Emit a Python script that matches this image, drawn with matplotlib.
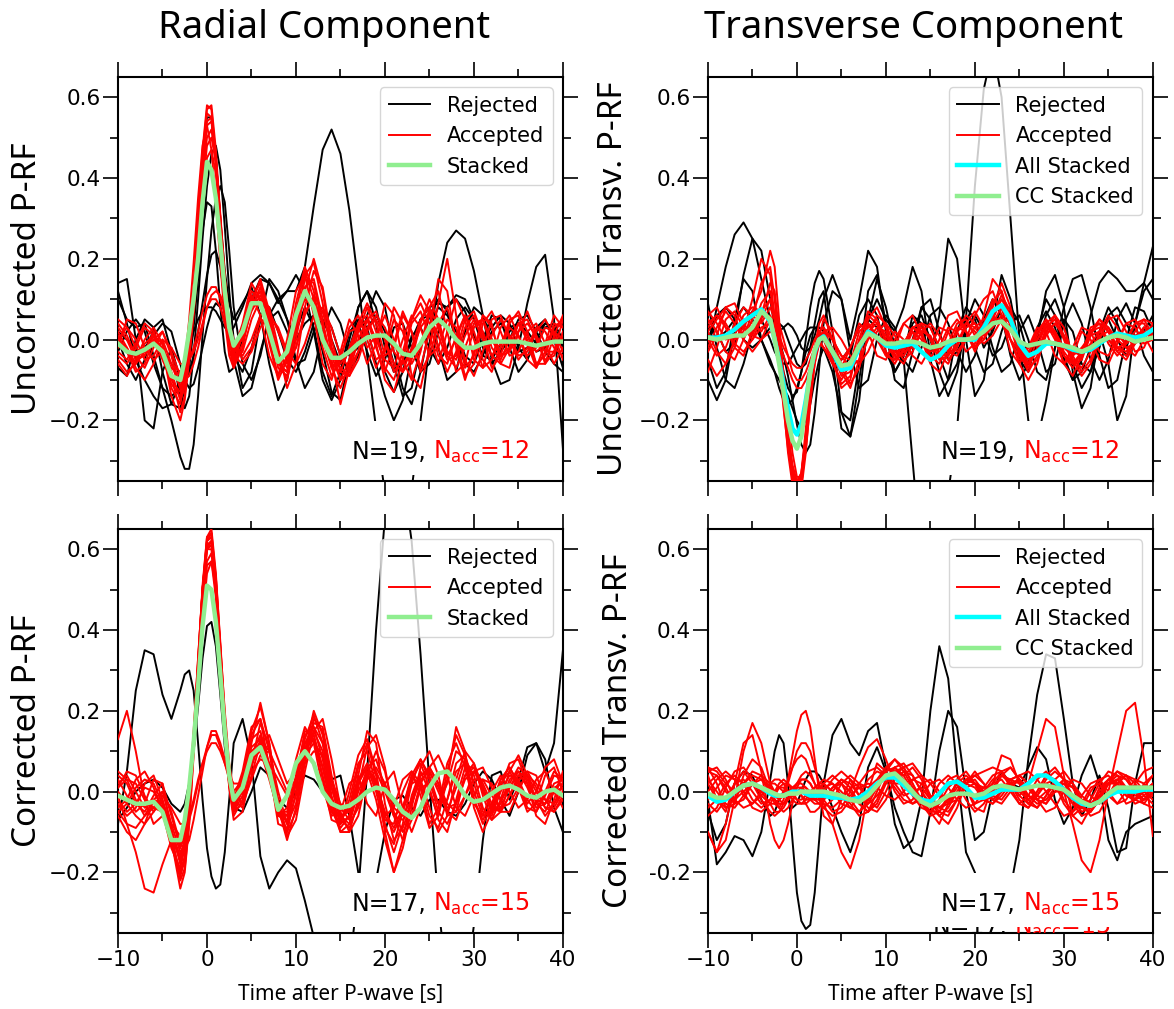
import numpy as np
import matplotlib
matplotlib.use("Agg")
import matplotlib.pyplot as plt
from matplotlib.ticker import MultipleLocator, FormatStrFormatter
from matplotlib.patches import Rectangle

# time after P [s]: 1 s samples, 0.5 s around the direct P pulse
t = np.array([-10, -9, -8, -7, -6, -5, -4, -3,
              -2.5, -2, -1.5, -1, -0.5, 0, 0.5, 1, 1.5, 2, 2.5]
             + list(range(3, 41)), dtype=float)

# ---------------- radial, uncorrected ----------------
rad_unc_rejected = [
    [0.14, 0.15, 0.0, -0.20, -0.22, -0.08, -0.02, -0.10,
     -0.12, -0.07, 0.03, 0.15, 0.27, 0.34, 0.33, 0.22, 0.08, -0.03, -0.08,
     -0.07, 0.0, 0.10, 0.15, 0.14, 0.09, 0.12, 0.12, 0.18, 0.33,
     0.47, 0.52, 0.46, 0.32, 0.14, -0.04, -0.22, -0.38, -0.46, -0.46,
     -0.37, -0.20, -0.01, 0.14, 0.24, 0.27, 0.25, 0.17, 0.06, -0.05,
     -0.11, -0.10, -0.02, 0.09, 0.18, 0.21, 0.05, -0.27],
    [-0.07, -0.09, 0.0, 0.05, 0.03, -0.08, -0.16, -0.17,
     -0.12, -0.02, 0.12, 0.29, 0.45, 0.55, 0.55, 0.45, 0.30, 0.17, 0.09,
     0.05, 0.09, 0.13, 0.06, -0.06, -0.15, -0.10, 0.02, 0.08, 0.03,
     -0.08, -0.14, -0.08, 0.02, 0.04, -0.03, -0.09, -0.05, 0.03, 0.04,
     -0.02, -0.08, -0.06, 0.02, 0.08, 0.10, 0.07, 0.01, -0.04, -0.05,
     -0.01, 0.03, 0.04, 0.01, -0.03, -0.02, 0.01, -0.01],
    [0.0, -0.06, -0.10, -0.05, 0.03, 0.05, -0.03, -0.14,
     -0.17, -0.14, -0.04, 0.10, 0.25, 0.38, 0.46, 0.48, 0.42, 0.28, 0.12,
     0.0, -0.12, -0.08, 0.05, 0.15, 0.12, 0.05, 0.0, 0.04, 0.06,
     -0.03, -0.13, -0.15, -0.05, 0.08, 0.12, 0.04, -0.08, -0.13, -0.08,
     0.01, 0.03, -0.02, -0.06, -0.02, 0.05, 0.08, 0.05, -0.02, -0.06,
     -0.03, 0.02, 0.04, 0.02, -0.01, 0.03, 0.04, 0.0],
    [0.10, 0.05, 0.03, 0.04, -0.04, -0.12, -0.20, -0.29,
     -0.32, -0.32, -0.26, -0.14, 0.01, 0.15, 0.27, 0.35, 0.38, 0.34, 0.22,
     0.08, -0.06, -0.10, -0.04, 0.06, 0.10, 0.05, -0.05, -0.12, -0.08,
     0.02, 0.08, 0.04, -0.04, -0.02, 0.06, 0.12, 0.08, -0.03, -0.12,
     -0.16, -0.08, 0.03, 0.08, 0.06, 0.02, -0.04, -0.06, 0.0, 0.06,
     0.05, -0.02, -0.08, -0.05, 0.03, 0.05, 0.0, -0.07],
    [0.12, 0.04, -0.05, -0.10, -0.14, -0.17, -0.16, -0.10,
     -0.06, -0.02, 0.02, 0.05, 0.07, 0.08, 0.08, 0.07, 0.05, 0.03, 0.02,
     0.03, 0.08, 0.14, 0.16, 0.14, 0.10, 0.12, 0.16, 0.12, 0.02,
     -0.10, -0.15, -0.10, 0.0, 0.08, 0.12, 0.08, -0.02, -0.08, -0.06,
     0.0, 0.05, 0.08, 0.09, 0.08, 0.11, 0.10, 0.05, 0.0, 0.03,
     0.06, 0.04, -0.02, -0.05, 0.0, 0.04, 0.03, -0.02],
    [-0.03, 0.02, 0.05, 0.02, -0.06, -0.12, -0.14, -0.12,
     -0.10, -0.08, -0.04, 0.02, 0.09, 0.16, 0.21, 0.22, 0.18, 0.10, 0.02,
     -0.05, -0.14, -0.12, -0.03, 0.05, 0.07, 0.02, -0.06, -0.05, 0.02,
     0.05, 0.0, -0.06, -0.02, 0.05, 0.03, -0.06, -0.14, -0.20, -0.15,
     -0.04, 0.05, 0.06, -0.02, -0.10, -0.08, 0.02, 0.08, 0.06, 0.0,
     -0.03, 0.0, 0.05, 0.06, 0.02, -0.03, -0.06, -0.08],
    [0.02, 0.0, -0.03, -0.02, 0.01, 0.04, 0.02, -0.06,
     -0.10, -0.12, -0.11, -0.07, -0.02, 0.03, 0.07, 0.09, 0.08, 0.04, 0.0,
     -0.04, -0.08, -0.02, 0.06, 0.08, 0.02, -0.05, -0.08, -0.03, 0.04,
     0.07, 0.03, -0.04, -0.08, -0.04, 0.03, 0.06, 0.02, -0.06, -0.14,
     -0.12, -0.02, 0.06, 0.10, 0.07, 0.0, -0.06, -0.08, -0.04, 0.02,
     0.04, 0.01, -0.03, -0.02, 0.02, 0.04, 0.03, -0.01],
]
rad_unc_accepted = [
    [0.02, -0.02, -0.06, -0.03, 0.02, -0.03, -0.12, -0.16,
     -0.10, 0.0, 0.13, 0.29, 0.47, 0.58, 0.57, 0.45, 0.28, 0.12, 0.0,
     -0.04, 0.03, 0.12, 0.10, 0.0, -0.09, -0.04, 0.09, 0.18, 0.12,
     0.0, -0.07, -0.04, 0.02, 0.03, -0.02, 0.01, 0.06, 0.0, -0.08,
     -0.05, 0.04, 0.10, 0.05, -0.03, -0.05, 0.01, 0.05, 0.0, -0.04,
     -0.01, 0.03, 0.01, -0.04, -0.02, 0.03, 0.02, -0.03],
    [-0.04, -0.06, -0.02, 0.03, 0.01, -0.05, -0.10, -0.13,
     -0.08, -0.01, 0.11, 0.26, 0.42, 0.53, 0.54, 0.44, 0.29, 0.13, 0.01,
     -0.05, 0.01, 0.08, 0.13, 0.05, -0.06, -0.08, 0.04, 0.15, 0.14,
     0.03, -0.06, -0.08, -0.02, 0.04, 0.02, -0.05, -0.03, 0.05, 0.02,
     -0.06, -0.02, 0.08, 0.12, 0.02, -0.08, -0.06, 0.03, 0.05, -0.02,
     -0.05, 0.0, 0.04, 0.01, -0.03, -0.01, 0.02, 0.0],
    [0.0, 0.03, 0.0, -0.05, -0.04, 0.0, -0.06, -0.12,
     -0.11, -0.05, 0.06, 0.21, 0.37, 0.48, 0.50, 0.44, 0.31, 0.16, 0.03,
     -0.03, 0.04, 0.14, 0.10, -0.01, -0.10, -0.05, 0.07, 0.17, 0.10,
     -0.02, -0.09, -0.05, 0.03, 0.06, 0.0, -0.07, -0.02, 0.08, 0.04,
     -0.09, -0.12, -0.02, 0.09, 0.20, 0.06, -0.07, -0.04, 0.06, 0.04,
     -0.06, -0.07, 0.02, 0.07, 0.01, -0.06, -0.03, 0.05],
    [-0.06, -0.09, -0.05, 0.0, 0.03, -0.01, -0.09, -0.18,
     -0.14, -0.04, 0.10, 0.27, 0.45, 0.56, 0.55, 0.43, 0.26, 0.10, -0.02,
     -0.07, -0.02, 0.09, 0.15, 0.07, -0.05, -0.10, 0.0, 0.12, 0.20,
     0.12, -0.02, -0.10, -0.08, 0.0, 0.05, -0.02, -0.08, -0.01, 0.07,
     0.02, -0.07, 0.02, 0.15, 0.12, -0.02, -0.10, -0.03, 0.06, 0.03,
     -0.04, -0.02, 0.04, 0.0, -0.06, -0.04, 0.03, 0.05],
    [0.04, 0.01, -0.04, -0.07, -0.02, 0.02, -0.04, -0.12,
     -0.06, 0.05, 0.19, 0.35, 0.48, 0.53, 0.47, 0.34, 0.19, 0.05, -0.04,
     -0.07, 0.02, 0.11, 0.06, -0.04, -0.09, 0.0, 0.12, 0.16, 0.06,
     -0.06, -0.10, -0.03, 0.05, 0.01, -0.06, -0.01, 0.09, 0.06, -0.05,
     -0.10, -0.03, 0.07, 0.04, -0.04, 0.0, 0.06, 0.02, -0.05, -0.08,
     -0.02, 0.05, 0.06, -0.01, -0.07, -0.03, 0.04, 0.03],
    [-0.02, 0.05, 0.04, -0.02, -0.05, -0.03, -0.07, -0.09,
     -0.07, -0.02, 0.07, 0.20, 0.35, 0.45, 0.47, 0.41, 0.29, 0.15, 0.04,
     -0.02, 0.0, 0.07, 0.11, 0.06, -0.04, -0.06, 0.04, 0.10, 0.08,
     0.01, -0.04, -0.06, -0.03, 0.03, 0.05, 0.0, -0.05, -0.07, 0.0,
     0.06, 0.03, -0.04, -0.02, 0.05, 0.03, -0.05, -0.09, -0.03, 0.05,
     0.06, 0.0, -0.05, -0.02, 0.03, 0.02, -0.02, -0.04],
    [0.01, -0.03, -0.08, -0.06, 0.0, -0.02, -0.14, -0.20,
     -0.15, -0.05, 0.10, 0.28, 0.46, 0.57, 0.58, 0.47, 0.30, 0.13, 0.0,
     -0.06, -0.01, 0.08, 0.12, 0.04, -0.07, -0.09, 0.02, 0.16, 0.19,
     0.09, -0.04, -0.10, -0.05, 0.04, 0.06, -0.01, -0.10, -0.13, -0.05,
     0.05, 0.09, 0.04, -0.04, -0.06, 0.01, 0.06, 0.0, -0.07, -0.05,
     0.03, 0.06, 0.01, -0.05, -0.07, -0.01, 0.06, 0.03],
    [-0.03, -0.05, -0.01, 0.04, 0.02, -0.04, -0.11, -0.14,
     -0.10, -0.02, 0.10, 0.25, 0.40, 0.50, 0.52, 0.44, 0.30, 0.15, 0.03,
     -0.03, 0.01, 0.10, 0.14, 0.06, -0.06, -0.08, 0.03, 0.13, 0.15,
     0.05, -0.07, -0.12, -0.06, 0.04, 0.09, 0.04, -0.04, -0.02, 0.06,
     0.02, -0.08, -0.04, 0.04, 0.08, 0.0, -0.09, -0.06, 0.04, 0.07,
     0.02, -0.04, -0.03, 0.02, 0.04, -0.01, -0.06, -0.02],
    [0.03, 0.0, -0.05, -0.04, 0.01, -0.01, -0.08, -0.15,
     -0.12, -0.03, 0.11, 0.28, 0.44, 0.54, 0.55, 0.45, 0.29, 0.14, 0.02,
     -0.05, -0.03, 0.05, 0.10, 0.08, -0.02, -0.12, -0.06, 0.08, 0.17,
     0.13, 0.0, -0.08, -0.09, -0.03, 0.05, 0.07, 0.0, -0.08, -0.05,
     0.04, 0.07, 0.01, -0.06, 0.02, 0.10, 0.05, -0.05, -0.07, 0.01,
     0.05, 0.01, -0.04, -0.03, 0.02, 0.05, 0.01, -0.05],
    [-0.05, -0.08, -0.06, -0.01, 0.01, -0.03, -0.06, -0.08,
     -0.07, -0.05, -0.02, 0.02, 0.07, 0.11, 0.13, 0.13, 0.10, 0.06, 0.02,
     -0.02, -0.04, 0.0, 0.06, 0.07, 0.02, -0.04, -0.02, 0.06, 0.11,
     0.07, -0.02, -0.07, -0.09, -0.05, 0.02, 0.06, 0.03, -0.03, -0.06,
     -0.03, 0.03, 0.06, 0.01, -0.05, -0.04, 0.03, 0.06, 0.02, -0.04,
     -0.06, -0.02, 0.04, 0.05, 0.0, -0.05, -0.04, 0.02],
    [0.0, -0.02, -0.07, -0.10, -0.06, 0.0, -0.02, -0.06,
     -0.06, -0.05, -0.03, 0.0, 0.04, 0.08, 0.10, 0.10, 0.08, 0.04, 0.0,
     -0.04, -0.06, -0.03, 0.03, 0.06, 0.03, -0.03, -0.06, -0.01, 0.06,
     0.08, 0.03, -0.04, -0.07, -0.03, 0.03, 0.05, 0.0, -0.06, -0.08,
     -0.02, 0.05, 0.08, 0.03, -0.04, -0.07, -0.02, 0.04, 0.05, 0.0,
     -0.04, -0.03, 0.02, 0.04, 0.01, -0.03, -0.03, 0.01],
    [0.05, 0.03, -0.02, -0.04, 0.0, 0.02, -0.03, -0.09,
     -0.10, -0.09, -0.06, -0.02, 0.03, 0.08, 0.11, 0.12, 0.11, 0.08, 0.04,
     0.0, -0.05, -0.02, 0.05, 0.04, -0.03, -0.07, -0.02, 0.07, 0.10,
     0.04, -0.05, -0.16, -0.07, 0.02, 0.08, 0.02, -0.07, -0.10, -0.03,
     0.05, 0.11, 0.07, -0.02, -0.08, -0.03, 0.05, 0.07, 0.01, -0.07,
     -0.04, 0.04, 0.07, 0.02, -0.06, -0.06, 0.01, 0.06],
]
rad_unc_stack = [-0.01, -0.03, -0.035, -0.025, -0.01, -0.03, -0.09, -0.10,
                 -0.05, 0.02, 0.10, 0.20, 0.34, 0.44, 0.42, 0.35, 0.24, 0.12, 0.03,
                 -0.015, 0.02, 0.09, 0.09, 0.02, -0.055, -0.03, 0.06, 0.12, 0.08,
                 0.0, -0.045, -0.045, -0.03, -0.01, 0.005, 0.01, 0.01, -0.01, -0.035,
                 -0.04, -0.01, 0.03, 0.05, 0.03, 0.0, -0.02, -0.02, -0.01, -0.005,
                 -0.005, -0.005, -0.005, -0.01, -0.015, -0.01, -0.005, -0.005]

# ---------------- transverse, uncorrected ----------------
trn_unc_rejected = [
    [0.05, 0.02, -0.03, -0.01, 0.04, 0.07, 0.05, 0.0,
     -0.03, -0.05, -0.06, -0.06, -0.04, -0.02, 0.0, 0.02, 0.03, 0.03, 0.02,
     0.0, -0.04, -0.05, -0.02, 0.03, 0.05, 0.03, 0.0, 0.0, -0.05,
     -0.30, -0.55, -0.62, -0.55, -0.38, -0.22, 0.05, 0.38, 0.62, 0.72,
     0.60, 0.30, 0.0, -0.20, -0.25, -0.15, -0.02, 0.05, 0.02, -0.06,
     -0.08, -0.02, 0.06, 0.08, 0.04, 0.0, 0.02, 0.06],
    [-0.03, 0.08, 0.18, 0.26, 0.29, 0.25, 0.15, 0.05,
     0.03, 0.02, 0.03, 0.04, 0.03, 0.01, -0.02, -0.03, -0.02, 0.01, 0.05,
     0.10, 0.16, 0.10, -0.03, -0.12, -0.10, 0.0, 0.06, 0.03, -0.05,
     -0.08, -0.02, 0.06, 0.08, 0.04, -0.03, -0.08, -0.04, 0.05, 0.10,
     0.06, -0.04, -0.10, -0.06, 0.03, 0.07, 0.03, -0.05, -0.10, -0.05,
     0.06, 0.14, 0.17, 0.15, 0.12, 0.12, 0.14, 0.10],
    [-0.10, -0.15, -0.10, 0.02, 0.16, 0.25, 0.22, 0.10,
     0.03, -0.03, -0.08, -0.12, -0.14, -0.13, -0.08, 0.0, 0.08, 0.14, 0.17,
     0.15, 0.02, -0.18, -0.24, -0.15, 0.05, 0.15, 0.08, -0.02, -0.06,
     0.0, 0.08, 0.05, -0.04, -0.10, -0.06, 0.03, 0.06, 0.02, -0.04,
     -0.02, 0.04, 0.06, 0.0, -0.08, -0.10, -0.02, 0.08, 0.15, 0.16,
     0.08, -0.04, -0.12, -0.10, 0.0, 0.08, 0.07, 0.02],
    [0.09, -0.02, -0.10, -0.12, -0.06, 0.02, 0.06, 0.05,
     0.03, 0.0, -0.04, -0.09, -0.15, -0.21, -0.26, -0.28, -0.26, -0.18, -0.07,
     0.04, 0.12, 0.10, 0.0, 0.10, 0.22, 0.18, 0.02, -0.10, -0.12,
     -0.03, 0.08, 0.10, 0.02, -0.05, -0.03, 0.02, -0.02, -0.08, -0.06,
     0.02, 0.08, 0.04, -0.04, -0.02, 0.06, 0.10, 0.04, -0.06, -0.12,
     -0.08, 0.02, 0.05, 0.0, -0.04, 0.0, 0.03, 0.02],
    [0.0, 0.06, 0.08, 0.05, 0.0, -0.02, 0.0, 0.03,
     0.04, 0.04, 0.03, 0.0, -0.03, -0.06, -0.07, -0.06, -0.02, 0.04, 0.10,
     0.12, -0.05, -0.22, -0.24, -0.10, 0.05, 0.10, 0.05, 0.02, 0.08,
     0.18, 0.12, -0.04, 0.06, 0.25, 0.20, 0.0, -0.14, -0.10, 0.04,
     0.16, 0.10, -0.02, -0.06, 0.02, 0.10, 0.06, -0.04, -0.10, -0.08,
     -0.02, 0.02, -0.06, -0.20, -0.14, 0.04, 0.14, 0.23],
    [-0.05, -0.12, -0.08, 0.05, 0.15, 0.12, 0.0, -0.06,
     -0.08, -0.10, -0.12, -0.14, -0.17, -0.20, -0.22, -0.20, -0.16, -0.10, -0.05,
     -0.02, -0.08, -0.18, -0.20, -0.06, 0.12, 0.16, 0.04, -0.08, -0.04,
     0.06, 0.04, -0.05, -0.14, -0.10, 0.02, 0.08, 0.05, -0.02, 0.02,
     0.08, 0.05, -0.05, -0.08, 0.0, 0.12, 0.16, 0.08, -0.08, -0.17,
     -0.12, 0.02, 0.08, 0.04, -0.02, 0.04, 0.12, 0.15],
    [0.04, 0.0, 0.02, 0.05, 0.08, 0.05, 0.0, -0.05,
     -0.08, -0.12, -0.15, -0.16, -0.15, -0.12, -0.08, -0.03, 0.01, 0.03, 0.03,
     0.02, -0.04, -0.08, -0.04, 0.06, 0.10, 0.06, -0.03, -0.08, -0.04,
     0.04, 0.06, 0.0, -0.08, -0.14, -0.08, 0.04, 0.10, 0.06, -0.02,
     -0.08, -0.06, 0.02, 0.06, 0.0, -0.08, -0.06, 0.04, 0.09, 0.04,
     -0.05, -0.10, -0.05, 0.05, 0.09, 0.04, -0.04, -0.08],
]
trn_unc_accepted = [
    [0.03, 0.06, 0.04, 0.0, 0.02, 0.10, 0.20, 0.16,
     0.05, -0.06, -0.17, -0.27, -0.34, -0.37, -0.33, -0.22, -0.10, -0.02, 0.01,
     0.0, -0.06, -0.10, -0.06, 0.02, 0.04, 0.0, -0.02, 0.02, 0.0,
     -0.04, -0.06, -0.02, 0.03, 0.02, -0.03, 0.0, 0.06, 0.10, 0.12,
     0.06, -0.03, -0.06, -0.02, 0.03, 0.02, -0.04, -0.06, -0.02, 0.03,
     0.02, -0.03, -0.04, 0.0, 0.04, 0.03, -0.01, 0.0],
    [-0.02, 0.03, 0.07, 0.04, 0.0, 0.05, 0.14, 0.18,
     0.10, -0.02, -0.14, -0.25, -0.33, -0.38, -0.36, -0.26, -0.13, -0.03, 0.02,
     0.03, -0.03, -0.09, -0.08, 0.0, 0.06, 0.04, -0.03, -0.06, -0.02,
     0.03, 0.02, -0.04, -0.06, -0.01, 0.04, 0.05, 0.01, 0.04, 0.10,
     0.08, 0.0, -0.05, -0.04, 0.01, 0.05, 0.02, -0.04, -0.07, -0.03,
     0.02, 0.03, 0.0, -0.03, 0.0, 0.04, 0.05, 0.01],
    [0.05, 0.02, -0.03, -0.05, 0.0, 0.07, 0.12, 0.22,
     0.18, 0.05, -0.10, -0.24, -0.34, -0.39, -0.37, -0.28, -0.15, -0.04, 0.01,
     0.02, -0.05, -0.11, -0.09, -0.01, 0.04, 0.01, -0.04, -0.02, 0.04,
     0.06, 0.01, -0.05, -0.04, 0.02, 0.05, 0.02, -0.03, 0.02, 0.08,
     0.14, 0.08, -0.02, -0.07, -0.05, 0.01, 0.04, 0.01, -0.05, -0.09,
     -0.06, 0.0, 0.05, 0.06, 0.02, -0.03, -0.02, 0.03],
    [-0.08, -0.02, 0.05, 0.07, 0.03, 0.0, 0.05, 0.10,
     0.06, 0.0, -0.08, -0.18, -0.28, -0.34, -0.34, -0.27, -0.16, -0.06, 0.01,
     0.05, 0.02, -0.08, -0.12, -0.05, 0.05, 0.08, 0.03, -0.04, -0.06,
     -0.01, 0.04, 0.03, -0.02, -0.05, -0.02, 0.04, 0.07, 0.03, 0.05,
     0.10, 0.06, -0.03, -0.08, -0.04, 0.03, 0.05, 0.0, -0.06, -0.05,
     0.01, 0.05, 0.03, -0.02, -0.04, 0.0, 0.03, 0.01],
    [0.0, -0.04, -0.02, 0.04, 0.08, 0.06, 0.04, 0.08,
     0.05, -0.02, -0.12, -0.23, -0.32, -0.37, -0.35, -0.25, -0.12, -0.02, 0.04,
     0.06, 0.0, -0.06, -0.06, -0.01, 0.03, 0.05, 0.0, -0.05, -0.03,
     0.02, 0.0, -0.06, -0.08, -0.03, 0.03, 0.02, -0.02, 0.03, 0.09,
     0.12, 0.05, -0.04, -0.06, 0.0, 0.04, 0.0, -0.06, -0.04, 0.02,
     0.0, -0.05, -0.06, -0.01, 0.04, 0.05, 0.01, -0.03],
    [0.06, 0.08, 0.03, -0.02, -0.04, 0.02, 0.09, 0.12,
     0.06, -0.04, -0.16, -0.28, -0.36, -0.40, -0.36, -0.25, -0.12, -0.03, 0.0,
     -0.02, -0.06, -0.07, -0.02, 0.04, 0.02, -0.04, -0.05, 0.0, 0.04,
     0.02, -0.03, -0.05, 0.0, 0.06, 0.07, 0.02, -0.02, 0.0, 0.05,
     0.05, 0.0, -0.06, -0.10, -0.06, 0.02, 0.06, 0.03, -0.04, -0.08,
     -0.05, 0.02, 0.06, 0.03, -0.02, -0.04, 0.0, 0.04],
    [-0.03, 0.01, 0.08, 0.09, 0.04, 0.01, 0.06, 0.14,
     0.12, 0.02, -0.11, -0.24, -0.34, -0.38, -0.34, -0.24, -0.12, -0.04, -0.01,
     -0.02, -0.05, -0.12, -0.10, 0.0, 0.07, 0.05, -0.01, -0.04, -0.01,
     0.03, 0.01, -0.03, -0.02, 0.03, 0.02, -0.03, -0.01, 0.06, 0.15,
     0.12, 0.03, -0.04, -0.04, 0.02, 0.05, 0.01, -0.06, -0.09, -0.04,
     0.03, 0.04, -0.01, -0.04, -0.01, 0.04, 0.04, 0.0],
    [0.02, -0.03, -0.06, -0.02, 0.05, 0.04, 0.02, 0.06,
     0.03, -0.05, -0.14, -0.24, -0.32, -0.36, -0.33, -0.24, -0.13, -0.05, -0.01,
     0.01, -0.02, -0.07, -0.11, -0.07, 0.01, 0.06, 0.04, -0.02, -0.05,
     -0.03, 0.02, 0.01, -0.04, -0.06, -0.01, 0.04, 0.03, 0.0, 0.04,
     0.08, 0.04, -0.04, -0.07, -0.02, 0.04, 0.06, 0.01, -0.05, -0.07,
     -0.03, 0.01, 0.02, 0.01, -0.01, 0.02, 0.05, 0.04],
    [0.07, 0.04, 0.0, 0.01, 0.06, 0.08, 0.07, 0.10,
     0.05, -0.03, -0.13, -0.23, -0.31, -0.35, -0.33, -0.25, -0.14, -0.06, -0.01,
     0.02, 0.0, -0.04, -0.07, -0.05, 0.0, 0.03, 0.02, -0.03, -0.04,
     0.0, 0.03, 0.0, -0.05, -0.04, 0.02, 0.06, 0.04, 0.01, 0.06,
     0.11, 0.07, -0.02, -0.06, -0.03, 0.02, 0.02, -0.03, -0.06, -0.04,
     0.02, 0.05, 0.02, -0.03, -0.05, -0.01, 0.03, 0.02],
    [0.04, 0.06, 0.03, -0.01, -0.03, 0.0, 0.03, 0.04,
     0.03, 0.01, -0.02, -0.04, -0.06, -0.07, -0.07, -0.05, -0.03, 0.0, 0.02,
     0.03, 0.0, -0.04, -0.05, -0.02, 0.02, 0.04, 0.01, -0.03, -0.04,
     0.0, 0.04, 0.03, -0.02, -0.04, -0.01, 0.03, 0.04, 0.01, 0.03,
     0.06, 0.04, -0.01, -0.03, 0.0, 0.03, 0.02, -0.02, -0.04, -0.02,
     0.01, 0.02, 0.0, -0.02, -0.01, 0.01, 0.02, 0.0],
    [-0.05, -0.09, -0.06, 0.0, 0.03, 0.01, 0.0, 0.02,
     0.01, -0.01, -0.04, -0.07, -0.10, -0.12, -0.12, -0.10, -0.07, -0.03, 0.0,
     0.02, 0.03, 0.0, -0.04, -0.06, -0.03, 0.02, 0.04, 0.01, -0.03,
     -0.02, 0.02, 0.04, 0.01, -0.03, -0.04, 0.0, 0.03, 0.05, 0.06,
     0.04, 0.0, -0.03, -0.02, 0.02, 0.04, 0.01, -0.04, -0.06, -0.03,
     0.02, 0.04, 0.02, -0.02, -0.03, 0.0, 0.02, 0.01],
    [0.02, 0.05, 0.08, 0.06, 0.0, -0.03, 0.0, 0.05,
     0.06, 0.04, 0.0, -0.04, -0.08, -0.10, -0.10, -0.08, -0.05, -0.02, 0.0,
     0.0, -0.03, -0.05, -0.02, 0.03, 0.04, 0.0, -0.04, -0.05, -0.01,
     0.03, 0.04, 0.0, -0.03, -0.02, 0.02, 0.04, 0.02, -0.01, 0.01,
     0.05, 0.03, -0.02, -0.05, -0.03, 0.02, 0.04, 0.01, -0.03, -0.04,
     -0.01, 0.02, 0.03, 0.0, -0.02, -0.01, 0.01, 0.02],
]
trn_unc_stack_all = [0.005, 0.005, 0.01, 0.025, 0.045, 0.06, 0.075, 0.045,
                     0.0, -0.05, -0.11, -0.17, -0.22, -0.235, -0.21, -0.15, -0.08, -0.03, 0.0,
                     0.008, -0.03, -0.075, -0.07, -0.02, 0.02, 0.005, -0.015, -0.02, -0.015,
                     -0.01, -0.03, -0.05, -0.04, -0.015, 0.0, 0.0, 0.0, 0.03, 0.07,
                     0.085, 0.05, -0.01, -0.04, -0.03, -0.01, -0.01, -0.015, -0.025, -0.03,
                     -0.025, -0.01, 0.005, 0.015, 0.01, 0.005, 0.01, 0.025]
trn_unc_stack_cc = [0.005, 0.0, 0.005, 0.01, 0.01, 0.03, 0.07, 0.05,
                    0.0, -0.06, -0.13, -0.20, -0.25, -0.27, -0.24, -0.16, -0.08, -0.025, 0.0,
                    0.005, -0.03, -0.065, -0.06, -0.015, 0.015, 0.005, -0.01, -0.01, -0.005,
                    -0.005, -0.01, -0.02, -0.015, -0.005, 0.0, 0.0, 0.005, 0.02, 0.04,
                    0.045, 0.025, -0.005, -0.015, -0.01, -0.005, -0.01, -0.015, -0.02, -0.03,
                    -0.02, -0.005, 0.005, 0.01, 0.005, -0.005, 0.0, 0.005]

# ---------------- radial, corrected ----------------
rad_cor_rejected = [
    [-0.08, 0.05, 0.25, 0.35, 0.34, 0.24, 0.18, 0.25,
     0.29, 0.30, 0.25, 0.12, -0.02, -0.14, -0.21, -0.24, -0.23, -0.15, -0.02,
     0.12, 0.18, 0.08, -0.16, -0.24, -0.20, -0.17, -0.19, -0.27, -0.36,
     -0.48, -0.56, -0.54, -0.43, -0.25, 0.05, 0.40, 0.68, 0.80, 0.78,
     0.62, 0.34, 0.02, -0.28, -0.48, -0.56, -0.50, -0.33, -0.12, 0.04,
     0.05, -0.02, 0.03, 0.11, 0.12, 0.05, 0.12, 0.35],
    [-0.07, -0.04, 0.0, 0.02, 0.03, 0.01, -0.03, -0.05,
     -0.03, 0.02, 0.10, 0.21, 0.33, 0.41, 0.42, 0.36, 0.24, 0.11, 0.02,
     -0.04, -0.05, 0.0, 0.06, 0.04, -0.02, -0.04, 0.0, 0.04, 0.03,
     0.0, 0.03, 0.04, -0.06, -0.20, -0.27, -0.22, -0.10, -0.02, -0.01,
     -0.04, -0.06, -0.02, -0.02, -0.05, -0.06, -0.03, 0.02, 0.05, 0.03,
     -0.02, -0.06, 0.0, 0.09, 0.12, 0.08, -0.04, -0.10],
]
rad_cor_accepted = [
    [0.13, 0.20, 0.10, -0.02, -0.08, -0.06, -0.10, -0.17,
     -0.12, -0.01, 0.15, 0.33, 0.50, 0.61, 0.62, 0.52, 0.35, 0.17, 0.04,
     -0.04, 0.02, 0.13, 0.15, 0.06, -0.06, -0.04, 0.08, 0.16, 0.12,
     0.01, -0.06, -0.05, 0.02, 0.04, -0.03, -0.06, 0.02, 0.05, -0.04,
     -0.10, -0.04, 0.06, 0.09, 0.04, -0.04, -0.06, -0.01, 0.03, 0.02,
     -0.02, 0.01, 0.05, 0.03, -0.02, -0.03, 0.01, 0.02],
    [-0.03, -0.06, -0.04, 0.02, 0.04, -0.02, -0.12, -0.20,
     -0.16, -0.05, 0.12, 0.32, 0.50, 0.62, 0.63, 0.51, 0.33, 0.15, 0.01,
     -0.06, -0.02, 0.09, 0.14, 0.07, -0.05, -0.10, 0.0, 0.13, 0.19,
     0.12, -0.01, -0.08, -0.06, 0.02, 0.06, 0.0, -0.09, -0.13, -0.05,
     0.04, 0.01, -0.08, -0.04, 0.07, 0.12, 0.06, -0.03, -0.06, 0.0,
     0.04, 0.0, -0.04, -0.02, 0.03, 0.05, 0.0, -0.04],
    [0.02, 0.04, 0.0, -0.04, -0.02, 0.0, -0.08, -0.15,
     -0.13, -0.04, 0.11, 0.29, 0.46, 0.57, 0.59, 0.50, 0.34, 0.18, 0.05,
     -0.02, 0.05, 0.16, 0.18, 0.06, -0.08, -0.09, 0.03, 0.15, 0.14,
     0.03, -0.07, -0.08, 0.0, 0.09, 0.13, 0.05, -0.08, -0.15, -0.08,
     0.02, 0.08, 0.04, -0.03, 0.02, 0.10, 0.08, -0.02, -0.07, -0.03,
     0.03, 0.06, 0.02, -0.03, 0.0, 0.06, 0.08, 0.02],
    [-0.06, -0.10, -0.12, -0.08, -0.02, -0.03, -0.12, -0.24,
     -0.20, -0.08, 0.10, 0.30, 0.50, 0.63, 0.65, 0.54, 0.36, 0.18, 0.04,
     -0.05, -0.01, 0.12, 0.22, 0.12, -0.04, -0.12, -0.04, 0.10, 0.20,
     0.14, 0.01, -0.07, -0.04, 0.06, 0.12, 0.04, -0.10, -0.20, -0.12,
     -0.01, 0.05, 0.0, -0.06, 0.03, 0.16, 0.10, -0.04, -0.10, -0.05,
     0.02, 0.05, 0.01, -0.05, -0.03, 0.04, 0.06, 0.0],
    [0.01, 0.05, 0.04, -0.01, -0.05, -0.02, -0.09, -0.18,
     -0.13, -0.02, 0.14, 0.33, 0.50, 0.60, 0.60, 0.49, 0.32, 0.15, 0.02,
     -0.04, 0.0, 0.10, 0.12, 0.04, -0.06, -0.07, 0.02, 0.12, 0.13,
     0.04, -0.05, -0.08, -0.02, 0.07, 0.10, 0.02, -0.07, -0.08, 0.0,
     0.05, 0.02, -0.06, -0.09, -0.02, 0.07, 0.09, 0.02, -0.05, -0.06,
     0.0, 0.04, 0.03, -0.02, -0.05, -0.01, 0.04, 0.03],
    [-0.01, -0.08, -0.15, -0.24, -0.25, -0.18, -0.12, -0.13,
     -0.10, -0.02, 0.10, 0.26, 0.42, 0.54, 0.57, 0.50, 0.36, 0.20, 0.07,
     0.0, 0.03, 0.11, 0.13, 0.05, -0.05, -0.05, 0.04, 0.14, 0.16,
     0.08, -0.03, -0.09, -0.06, 0.03, 0.07, 0.01, -0.06, -0.04, 0.03,
     0.05, -0.01, -0.09, -0.06, 0.05, 0.14, 0.09, -0.02, -0.08, -0.04,
     0.03, 0.06, 0.02, -0.04, -0.05, 0.0, 0.05, 0.03],
    [0.03, -0.01, -0.05, -0.03, 0.03, 0.02, -0.10, -0.22,
     -0.19, -0.08, 0.09, 0.30, 0.49, 0.61, 0.62, 0.51, 0.33, 0.15, 0.01,
     -0.07, -0.05, 0.07, 0.17, 0.11, -0.03, -0.10, -0.05, 0.07, 0.17,
     0.16, 0.04, -0.06, -0.05, 0.04, 0.15, 0.12, -0.03, -0.12, -0.09,
     -0.03, 0.04, 0.05, 0.0, -0.05, 0.01, 0.08, 0.04, -0.04, -0.07,
     -0.02, 0.05, 0.09, 0.04, -0.03, -0.05, 0.0, 0.04],
    [-0.04, -0.02, 0.03, 0.05, 0.01, -0.05, -0.14, -0.19,
     -0.14, -0.04, 0.12, 0.31, 0.49, 0.60, 0.61, 0.50, 0.33, 0.16, 0.02,
     -0.05, 0.01, 0.08, 0.10, 0.03, -0.05, -0.06, 0.03, 0.12, 0.14,
     0.06, -0.04, -0.10, -0.08, 0.0, 0.05, -0.02, -0.12, -0.20, -0.14,
     -0.04, 0.06, 0.10, 0.04, -0.06, -0.05, 0.04, 0.07, 0.01, -0.05,
     -0.03, 0.03, 0.05, 0.01, -0.04, -0.03, 0.02, 0.03],
    [0.01, 0.03, 0.02, -0.02, -0.04, -0.05, -0.10, -0.16,
     -0.12, -0.03, 0.12, 0.30, 0.48, 0.60, 0.62, 0.53, 0.37, 0.19, 0.05,
     -0.03, 0.04, 0.14, 0.18, 0.10, -0.03, -0.08, -0.01, 0.09, 0.15,
     0.10, -0.02, -0.10, -0.10, -0.02, 0.06, 0.08, 0.01, -0.06, -0.04,
     0.03, 0.07, 0.01, -0.07, -0.10, -0.02, 0.06, 0.06, 0.0, -0.05,
     -0.04, 0.01, 0.04, 0.02, -0.02, -0.03, 0.0, 0.01],
    [-0.02, -0.05, -0.03, 0.01, 0.0, -0.04, -0.13, -0.21,
     -0.17, -0.06, 0.11, 0.31, 0.50, 0.62, 0.64, 0.53, 0.35, 0.17, 0.03,
     -0.04, 0.03, 0.15, 0.21, 0.12, -0.02, -0.11, -0.07, 0.05, 0.15,
     0.18, 0.08, -0.04, -0.07, 0.01, 0.11, 0.14, 0.06, -0.06, -0.12,
     -0.07, 0.01, 0.02, -0.03, -0.02, 0.05, 0.07, 0.0, -0.06, -0.05,
     0.01, 0.07, 0.08, 0.02, -0.06, -0.08, -0.02, 0.05],
    [0.04, 0.02, -0.03, -0.05, -0.01, 0.02, -0.06, -0.14,
     -0.11, -0.02, 0.12, 0.29, 0.46, 0.56, 0.57, 0.48, 0.33, 0.17, 0.04,
     -0.03, 0.02, 0.09, 0.11, 0.05, -0.04, -0.06, 0.02, 0.11, 0.13,
     0.06, -0.03, -0.07, -0.04, 0.03, 0.06, 0.02, -0.05, -0.09, -0.04,
     0.04, 0.08, 0.03, -0.05, -0.08, -0.03, 0.04, 0.06, 0.02, -0.03,
     -0.05, -0.01, 0.04, 0.05, 0.01, -0.04, -0.05, -0.01],
    [-0.05, -0.03, 0.01, 0.03, 0.02, -0.03, -0.11, -0.17,
     -0.13, -0.03, 0.13, 0.32, 0.51, 0.63, 0.64, 0.52, 0.34, 0.16, 0.02,
     -0.05, -0.03, 0.06, 0.13, 0.10, 0.0, -0.08, -0.03, 0.09, 0.18,
     0.15, 0.03, -0.07, -0.09, -0.03, 0.05, 0.03, -0.06, -0.10, -0.05,
     0.02, 0.03, -0.04, -0.10, -0.06, 0.03, 0.10, 0.07, -0.01, -0.07,
     -0.05, 0.02, 0.06, 0.04, -0.02, -0.06, -0.03, 0.02],
    [-0.05, -0.08, -0.09, -0.06, -0.02, -0.04, -0.08, -0.11,
     -0.10, -0.07, -0.03, 0.02, 0.07, 0.11, 0.14, 0.14, 0.11, 0.07, 0.03,
     0.0, -0.03, 0.03, 0.09, 0.10, 0.05, 0.0, 0.03, 0.09, 0.12,
     0.09, 0.01, -0.06, -0.08, -0.04, 0.03, 0.05, 0.0, -0.06, -0.07,
     -0.03, 0.03, 0.05, 0.01, -0.04, -0.03, 0.03, 0.05, 0.01, -0.04,
     -0.05, -0.01, 0.03, 0.04, 0.0, -0.04, -0.04, 0.0],
    [0.0, -0.03, -0.06, -0.08, -0.05, -0.01, -0.04, -0.08,
     -0.08, -0.06, -0.02, 0.03, 0.07, 0.10, 0.12, 0.12, 0.10, 0.07, 0.04,
     0.02, 0.02, 0.05, 0.08, 0.07, 0.03, -0.01, 0.02, 0.07, 0.10,
     0.09, 0.03, -0.03, -0.05, -0.02, 0.04, 0.06, 0.02, -0.04, -0.06,
     -0.02, 0.04, 0.06, 0.02, -0.03, -0.05, -0.01, 0.03, 0.03, -0.01,
     -0.04, -0.03, 0.01, 0.04, 0.02, -0.02, -0.03, 0.0],
    [0.05, 0.03, -0.02, -0.06, -0.04, 0.0, -0.05, -0.13,
     -0.14, -0.12, -0.07, -0.01, 0.05, 0.11, 0.15, 0.15, 0.12, 0.08, 0.03,
     -0.02, -0.04, 0.04, 0.12, 0.14, 0.08, 0.02, 0.05, 0.12, 0.16,
     0.12, 0.03, -0.05, -0.10, -0.06, 0.04, 0.10, 0.05, -0.05, -0.10,
     -0.06, 0.02, 0.06, 0.02, -0.05, -0.07, -0.01, 0.05, 0.06, 0.01,
     -0.05, -0.05, 0.0, 0.05, 0.04, -0.02, -0.05, -0.02],
]
rad_cor_stack = [-0.01, -0.02, -0.03, -0.03, -0.025, -0.05, -0.12, -0.12,
                 -0.07, 0.01, 0.12, 0.26, 0.41, 0.51, 0.50, 0.42, 0.29, 0.15, 0.04,
                 -0.02, 0.01, 0.09, 0.11, 0.05, -0.045, -0.01, 0.07, 0.10, 0.07,
                 0.0, -0.03, -0.04, -0.035, -0.02, 0.0, 0.01, 0.005, -0.02, -0.05,
                 -0.065, -0.04, 0.01, 0.045, 0.05, 0.025, -0.01, -0.025, -0.02, -0.005,
                 0.01, 0.015, 0.005, -0.01, -0.015, 0.0, 0.005, -0.01]

# ---------------- transverse, corrected ----------------
trn_cor_rejected = [
    [-0.02, -0.18, -0.15, -0.11, -0.12, -0.16, -0.10, 0.03,
     0.10, 0.14, 0.12, 0.02, -0.12, -0.25, -0.32, -0.34, -0.33, -0.25, -0.12,
     0.02, 0.14, 0.18, 0.12, 0.09, 0.15, 0.17, 0.06, -0.08, -0.14,
     -0.12, -0.02, 0.20, 0.36, 0.28, 0.05, -0.15, -0.20, -0.28, -0.33,
     -0.30, -0.24, -0.12, 0.08, 0.24, 0.34, 0.33, 0.18, 0.02, -0.06,
     -0.02, 0.04, -0.04, -0.15, -0.14, 0.02, 0.12, 0.12],
    [-0.05, -0.12, -0.08, 0.02, 0.05, 0.04, -0.02, -0.06,
     -0.05, -0.02, 0.0, -0.02, -0.04, -0.03, 0.0, 0.03, 0.05, 0.05, 0.04,
     0.02, -0.04, -0.10, -0.15, -0.08, 0.06, 0.11, 0.05, -0.04, -0.10,
     -0.15, -0.16, -0.05, 0.10, 0.20, 0.16, 0.0, -0.12, -0.10, 0.0,
     0.05, 0.02, 0.01, 0.06, 0.11, 0.08, -0.02, -0.08, -0.04, 0.04,
     0.09, 0.02, -0.12, -0.17, -0.10, -0.08, -0.07, -0.06],
]
trn_cor_accepted = [
    [0.06, 0.02, -0.04, -0.03, 0.04, 0.08, 0.06, 0.0,
     -0.03, -0.04, -0.02, 0.03, 0.09, 0.15, 0.19, 0.20, 0.16, 0.08, 0.0,
     -0.06, -0.08, -0.02, 0.03, 0.01, -0.02, 0.02, 0.06, 0.05, 0.0,
     -0.03, -0.02, -0.05, -0.08, -0.03, 0.03, 0.05, 0.02, -0.02, 0.0,
     0.04, 0.03, -0.01, -0.03, 0.0, 0.04, 0.03, -0.02, -0.05, -0.03,
     0.01, 0.02, -0.01, -0.03, 0.0, 0.03, 0.02, -0.01],
    [-0.10, -0.15, -0.12, -0.02, 0.10, 0.17, 0.12, 0.02,
     -0.02, -0.04, -0.05, -0.04, -0.02, 0.0, 0.01, 0.01, 0.0, -0.02, -0.03,
     -0.04, -0.02, 0.02, 0.04, 0.02, -0.02, -0.04, 0.0, 0.05, 0.06,
     0.02, -0.03, -0.05, -0.02, 0.03, 0.04, 0.01, -0.03, -0.02, 0.02,
     0.03, 0.0, -0.03, -0.01, 0.03, 0.05, 0.02, -0.03, -0.06, -0.04,
     0.0, 0.03, 0.04, 0.01, -0.03, -0.02, 0.02, 0.04],
    [0.04, -0.02, -0.05, 0.02, 0.12, 0.14, 0.05, -0.08,
     -0.12, -0.14, -0.12, -0.08, -0.03, 0.01, 0.03, 0.03, 0.02, 0.0, -0.01,
     -0.02, 0.0, 0.03, 0.01, -0.03, -0.05, -0.02, 0.03, 0.06, 0.04,
     0.0, -0.03, -0.02, 0.02, 0.04, 0.02, -0.02, -0.05, -0.03, 0.01,
     0.04, 0.06, 0.03, -0.02, -0.04, -0.01, 0.03, 0.05, 0.02, -0.02,
     -0.04, -0.02, 0.02, 0.03, 0.0, -0.03, -0.02, 0.01],
    [0.02, 0.04, 0.01, -0.03, -0.02, 0.02, 0.04, 0.02,
     0.0, -0.02, -0.03, -0.02, 0.0, 0.02, 0.04, 0.05, 0.04, 0.02, 0.0,
     -0.03, -0.08, -0.15, -0.19, -0.12, 0.0, 0.07, 0.05, 0.0, -0.03,
     -0.02, 0.02, 0.03, 0.0, -0.03, -0.02, 0.02, 0.04, 0.02, -0.01,
     -0.02, 0.01, 0.03, 0.01, -0.02, -0.03, 0.0, 0.03, 0.02, -0.01,
     -0.03, -0.01, 0.02, 0.02, 0.0, -0.02, -0.01, 0.01],
    [-0.03, -0.05, -0.02, 0.02, 0.03, 0.0, -0.03, -0.02,
     0.0, 0.02, 0.03, 0.02, 0.0, -0.02, -0.03, -0.03, -0.02, 0.0, 0.01,
     0.02, 0.0, -0.03, -0.04, -0.01, 0.03, 0.05, 0.04, 0.01, -0.02,
     -0.03, -0.01, 0.02, 0.03, 0.01, -0.02, -0.04, -0.03, 0.0, 0.03,
     0.04, 0.02, -0.01, 0.02, 0.10, 0.18, 0.16, 0.04, -0.06, -0.08,
     -0.04, 0.01, 0.03, 0.02, -0.01, -0.02, 0.0, 0.02],
    [0.0, 0.03, 0.05, 0.03, -0.01, -0.03, -0.01, 0.02,
     0.03, 0.03, 0.02, 0.0, -0.02, -0.03, -0.03, -0.02, 0.0, 0.01, 0.02,
     0.02, 0.0, -0.02, -0.01, 0.01, 0.02, 0.01, -0.01, -0.02, 0.0,
     0.03, 0.04, 0.02, -0.01, -0.02, 0.0, 0.02, 0.01, -0.02, -0.03,
     -0.01, 0.02, 0.03, 0.01, -0.02, -0.03, 0.0, 0.0, -0.08, -0.17,
     -0.20, -0.12, 0.0, 0.10, 0.20, 0.22, 0.08, -0.11],
    [-0.06, -0.04, 0.01, 0.05, 0.06, 0.03, -0.01, -0.03,
     -0.03, -0.02, 0.0, 0.03, 0.06, 0.08, 0.09, 0.08, 0.05, 0.02, -0.01,
     -0.03, -0.04, -0.02, 0.01, 0.02, 0.01, 0.03, 0.06, 0.08, 0.05,
     0.01, -0.03, -0.06, -0.05, -0.01, 0.02, 0.01, -0.01, 0.01, 0.04,
     0.05, 0.02, -0.02, -0.04, -0.01, 0.03, 0.05, 0.03, -0.01, -0.04,
     -0.05, -0.02, 0.02, 0.04, 0.03, 0.0, -0.02, -0.01],
    [0.03, 0.0, -0.03, -0.04, -0.01, 0.02, 0.03, 0.01,
     -0.01, -0.02, -0.01, 0.02, 0.06, 0.10, 0.12, 0.12, 0.10, 0.06, 0.02,
     -0.02, -0.05, -0.04, 0.0, 0.06, 0.11, 0.13, 0.08, 0.02, -0.01,
     0.0, 0.01, -0.02, -0.05, -0.06, -0.02, 0.02, 0.03, 0.0, -0.02,
     0.0, 0.03, 0.04, 0.02, -0.01, -0.02, 0.0, 0.02, 0.01, -0.02,
     -0.03, -0.01, 0.02, 0.03, 0.01, -0.01, 0.0, 0.02],
    [0.05, 0.04, 0.0, -0.02, 0.0, 0.02, 0.0, -0.03,
     -0.05, -0.05, -0.04, -0.02, 0.0, 0.01, 0.01, 0.0, -0.02, -0.03, -0.03,
     -0.02, 0.01, 0.02, 0.0, -0.03, -0.05, -0.03, 0.02, 0.06, 0.07,
     0.04, 0.0, -0.03, -0.04, -0.02, 0.01, 0.03, 0.04, 0.05, 0.06,
     0.05, 0.01, -0.03, -0.04, -0.01, 0.02, 0.03, 0.0, -0.03, -0.04,
     -0.02, 0.02, 0.05, 0.04, 0.01, -0.02, -0.03, 0.0],
    [-0.02, 0.01, 0.04, 0.03, 0.0, -0.04, -0.05, -0.03,
     -0.01, 0.01, 0.02, 0.02, 0.01, 0.0, -0.01, -0.02, -0.02, -0.01, 0.0,
     0.02, 0.04, 0.02, -0.02, -0.05, -0.03, 0.01, 0.04, 0.05, 0.04,
     0.06, 0.03, -0.02, -0.06, -0.08, -0.04, 0.02, 0.05, 0.02, -0.02,
     -0.03, 0.0, 0.04, 0.05, 0.03, 0.0, -0.03, -0.06, -0.05, -0.01,
     0.02, 0.03, 0.0, -0.03, -0.02, 0.02, 0.05, 0.06],
    [-0.10, -0.15, -0.08, 0.02, 0.05, 0.02, -0.02, -0.05,
     -0.06, -0.05, -0.03, -0.01, 0.0, 0.0, -0.01, -0.03, -0.05, -0.05, -0.04,
     -0.02, 0.01, 0.03, 0.02, -0.01, -0.03, -0.01, 0.02, 0.04, 0.06,
     0.07, 0.04, -0.01, -0.04, -0.03, 0.0, 0.03, 0.02, -0.01, -0.02,
     0.0, 0.03, 0.04, 0.02, -0.02, -0.05, -0.04, 0.0, 0.03, 0.02,
     -0.01, -0.03, -0.01, 0.02, 0.04, 0.03, 0.0, -0.02],
    [0.06, 0.05, 0.02, 0.0, 0.02, 0.05, 0.04, 0.0,
     -0.02, -0.03, -0.03, -0.02, 0.0, 0.02, 0.02, 0.01, -0.01, -0.02, -0.02,
     0.0, 0.03, 0.05, 0.03, -0.01, -0.04, -0.05, -0.02, 0.03, 0.05,
     0.04, 0.0, -0.04, -0.06, -0.04, 0.0, 0.03, 0.02, 0.0, 0.02,
     0.05, 0.06, 0.03, -0.01, -0.03, -0.02, 0.01, 0.03, 0.01, -0.03,
     -0.06, -0.05, -0.01, 0.03, 0.04, 0.02, -0.01, -0.03],
    [-0.04, -0.02, 0.02, 0.04, 0.02, -0.02, -0.04, -0.02,
     0.0, 0.01, 0.01, 0.0, -0.01, -0.02, -0.02, -0.01, 0.0, 0.01, 0.02,
     0.03, 0.02, -0.01, -0.04, -0.05, -0.02, 0.02, 0.05, 0.06, 0.03,
     -0.01, -0.04, -0.05, -0.03, 0.01, 0.03, 0.01, -0.04, -0.05, 0.02,
     0.09, 0.08, 0.02, -0.03, -0.04, -0.01, 0.02, 0.02, -0.01, -0.04,
     -0.05, -0.02, 0.02, 0.05, 0.04, 0.0, -0.03, -0.04],
    [0.02, -0.02, -0.04, -0.02, 0.02, 0.04, 0.03, 0.0,
     -0.02, -0.03, -0.03, -0.02, -0.01, 0.0, 0.0, -0.01, -0.02, -0.02, -0.01,
     0.01, 0.02, 0.0, -0.03, -0.06, -0.05, 0.0, 0.05, 0.08, 0.06,
     0.02, -0.02, -0.05, -0.05, -0.02, 0.02, 0.04, 0.02, -0.02, -0.03,
     0.0, 0.03, 0.02, -0.01, -0.02, 0.0, 0.02, 0.01, -0.03, -0.06,
     -0.05, -0.01, 0.03, 0.05, 0.03, 0.0, -0.02, 0.0],
    [0.05, 0.06, 0.03, -0.02, -0.04, -0.03, 0.0, 0.02,
     0.02, 0.01, 0.0, 0.0, 0.01, 0.02, 0.03, 0.03, 0.02, 0.0, -0.02,
     -0.04, -0.06, -0.05, -0.02, 0.02, 0.05, 0.06, 0.04, 0.02, 0.02,
     0.03, 0.02, -0.01, -0.04, -0.05, -0.02, 0.01, 0.02, 0.01, 0.0,
     0.01, 0.02, 0.0, -0.02, 0.0, 0.04, 0.06, 0.03, -0.02, -0.05,
     -0.04, 0.0, 0.03, 0.02, -0.01, -0.02, 0.01, 0.04],
]
trn_cor_stack_all = [-0.01, -0.025, -0.02, 0.0, 0.015, 0.02, 0.01, -0.005,
                     -0.01, -0.01, -0.01, -0.005, 0.0, 0.0, 0.0, -0.005, -0.01, -0.01, -0.01,
                     -0.01, -0.015, -0.015, -0.02, -0.015, 0.0, 0.02, 0.035, 0.035, 0.015,
                     -0.005, -0.02, -0.025, -0.005, 0.02, 0.025, 0.01, -0.015, -0.015, -0.005,
                     0.005, 0.005, 0.005, 0.02, 0.04, 0.04, 0.025, 0.005, -0.015, -0.03,
                     -0.035, -0.025, -0.01, 0.0, 0.0, 0.0, 0.005, 0.005]
trn_cor_stack_cc = [-0.005, -0.015, -0.015, 0.0, 0.015, 0.02, 0.01, 0.0,
                    -0.005, -0.01, -0.01, -0.005, -0.005, -0.005, 0.0, 0.0, 0.0, 0.0, 0.0,
                    0.0, -0.005, -0.01, -0.02, -0.025, -0.01, 0.015, 0.04, 0.045, 0.025,
                    0.0, -0.025, -0.035, -0.025, -0.01, -0.005, -0.005, -0.01, -0.005, 0.01,
                    0.015, 0.01, 0.005, 0.01, 0.015, 0.015, 0.01, 0.005, -0.01, -0.025,
                    -0.035, -0.025, -0.005, 0.01, 0.01, 0.01, 0.01, 0.01]

TITLE_FONT = "Noto Sans"


def draw_panel(ax, rejected, accepted, stacks):
    for tr in rejected:
        h_rej, = ax.plot(t, tr, color="black", lw=1.4, zorder=2,
                         solid_joinstyle="round")
    for tr in accepted:
        h_acc, = ax.plot(t, tr, color="red", lw=1.4, zorder=3,
                         solid_joinstyle="round")
    handles = [h_rej, h_acc]
    labels = ["Rejected", "Accepted"]
    for vals, color, label in stacks:
        h, = ax.plot(t, vals, color=color, lw=3.2, zorder=4,
                     solid_joinstyle="round")
        handles.append(h)
        labels.append(label)
    ax.legend(handles, labels, loc="upper right", fontsize=15)

    # white patch behind the trace count
    ax.add_patch(Rectangle((0.51, 0.016), 0.43, 0.132, transform=ax.transAxes,
                           facecolor="white", edgecolor="none", zorder=6))
    n_all = len(rejected) + len(accepted)
    ax.text(0.692, 0.054, f"N={n_all},", transform=ax.transAxes,
            ha="right", va="baseline", fontsize=17, zorder=7)
    ax.text(0.708, 0.054, r"$\mathrm{N}_\mathrm{acc}$=" + str(len(accepted)),
            transform=ax.transAxes, ha="left", va="baseline",
            fontsize=17, color="red", zorder=7)


def style_axes(ax, bottom_labels):
    ax.set_xlim(-10, 40)
    ax.set_ylim(-0.35, 0.65)
    ax.xaxis.set_major_locator(MultipleLocator(10))
    ax.xaxis.set_minor_locator(MultipleLocator(5))
    ax.yaxis.set_major_locator(MultipleLocator(0.2))
    ax.yaxis.set_minor_locator(MultipleLocator(0.1))
    ax.tick_params(which="both", direction="out", top=True, right=True,
                   width=1.2, labelsize=15.5, pad=2, labelbottom=bottom_labels)
    ax.tick_params(which="major", length=10.5)
    ax.tick_params(which="minor", length=5.5)
    for sp in ax.spines.values():
        sp.set_linewidth(1.5)
    if bottom_labels:
        ax.set_xlabel("Time after P-wave [s]", fontsize=15, fontfamily=TITLE_FONT,
                      va="top")
        ax.xaxis.set_label_coords(0.5, -0.125)


fig = plt.figure(figsize=(11.74, 10.09), dpi=100)
w, h = 0.379, 0.4004
ax_tl = fig.add_axes([0.1005, 0.5233, w, h])
ax_tr = fig.add_axes([0.603, 0.5233, w, h])
ax_bl = fig.add_axes([0.1005, 0.0753, w, h])
ax_br = fig.add_axes([0.603, 0.0753, w, h])

draw_panel(ax_tl, rad_unc_rejected, rad_unc_accepted,
           [(rad_unc_stack, "lightgreen", "Stacked")])
draw_panel(ax_tr, trn_unc_rejected, trn_unc_accepted,
           [(trn_unc_stack_all, "cyan", "All Stacked"),
            (trn_unc_stack_cc, "lightgreen", "CC Stacked")])
draw_panel(ax_bl, rad_cor_rejected, rad_cor_accepted,
           [(rad_cor_stack, "lightgreen", "Stacked")])
draw_panel(ax_br, trn_cor_rejected, trn_cor_accepted,
           [(trn_cor_stack_all, "cyan", "All Stacked"),
            (trn_cor_stack_cc, "lightgreen", "CC Stacked")])

# faint leftover copy of the count, clipped at the lower edge
ax_br.text(0.672, -0.002, f"N={len(trn_cor_rejected) + len(trn_cor_accepted)},",
           transform=ax_br.transAxes, ha="right", va="baseline", fontsize=17,
           zorder=5, clip_on=True)
ax_br.text(0.688, -0.002, r"$\mathrm{N}_\mathrm{acc}$=" + str(len(trn_cor_accepted)),
           transform=ax_br.transAxes, ha="left", va="baseline", fontsize=17,
           color="red", zorder=5, clip_on=True)

style_axes(ax_tl, False)
style_axes(ax_tr, False)
style_axes(ax_bl, True)
style_axes(ax_br, True)
ax_br.yaxis.set_major_formatter(FormatStrFormatter("%.1f"))

ylabels = [(ax_tl, "Uncorrected P-RF", -0.166), (ax_tr, "Uncorrected Transv. P-RF", -0.175),
           (ax_bl, "Corrected P-RF", -0.166), (ax_br, "Corrected Transv. P-RF", -0.164)]
for ax, text, xpos in ylabels:
    ax.set_ylabel(text, fontsize=24, fontfamily=TITLE_FONT)
    ax.yaxis.set_label_coords(xpos, 0.5)

fig.text(0.276, 0.962, "Radial Component", ha="center", va="baseline",
         fontsize=27.5, fontfamily=TITLE_FONT)
fig.text(0.778, 0.962, "Transverse Component", ha="center", va="baseline",
         fontsize=27.5, fontfamily=TITLE_FONT)

fig.savefig("out.png", dpi=100)
